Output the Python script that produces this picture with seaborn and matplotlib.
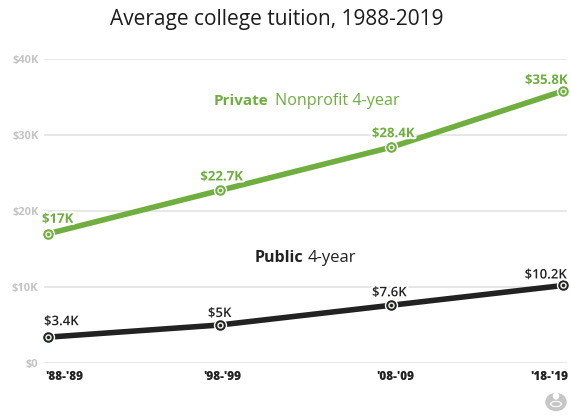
import matplotlib
matplotlib.use("Agg")
import matplotlib.pyplot as plt
from matplotlib.patches import Ellipse
from matplotlib.transforms import ScaledTranslation
import matplotlib.patheffects as pe
import pandas as pd
import seaborn as sns

periods = ["'88-'89", "'98-'99", "'08-'09", "'18-'19"]
private_values = [17, 22.7, 28.4, 35.8]
public_values = [3.4, 5, 7.6, 10.2]
private_labels = ["$17K", "$22.7K", "$28.4K", "$35.8K"]
public_labels = ["$3.4K", "$5K", "$7.6K", "$10.2K"]
y_ticks = [0, 10, 20, 30, 40]
y_tick_labels = ["$0", "$10K", "$20K", "$30K", "$40K"]

GREEN = "#6fae3f"
BLACK = "#222222"
W, H = 571, 417

sns.set_theme(style="white")
plt.rcParams["font.family"] = ["Open Sans", "DejaVu Sans"]

fig = plt.figure(figsize=(W / 100, H / 100), dpi=100, facecolor="white")
ax = fig.add_axes([44 / W, 1 - 363 / H, (567 - 44) / W, (363 - 59) / H])

frame = pd.DataFrame({
    "pos": list(range(4)) * 2,
    "value": private_values + public_values,
    "kind": ["private"] * 4 + ["public"] * 4,
})
palette = {"private": GREEN, "public": BLACK}
sns.lineplot(data=frame, x="pos", y="value", hue="kind", palette=palette,
             linewidth=4, legend=False, ax=ax, zorder=3, clip_on=False,
             solid_capstyle="butt")
# Ring markers: white gap around the ring, then pale centre with a dot
for name, values in (("private", private_values), ("public", public_values)):
    col = palette[name]
    ax.plot(range(4), values, ls="none", marker="o", ms=8.6, mfc=col, mec="white",
            mew=1.0, zorder=4, clip_on=False)
    ax.plot(range(4), values, ls="none", marker="o", ms=3.6, mfc=col, mec="#e6eee0",
            mew=1.1, zorder=5, clip_on=False)

# x range chosen so the four periods sit just inside the gridline ends
ax.set_xlim((44 - 48) / 171.7, (567 - 48) / 171.7)
ax.set_ylim(0, 40)
ax.set_yticks(y_ticks)
ax.set_yticklabels(y_tick_labels, fontsize=8, fontweight="bold", color="#c4c4c4")
ax.set_xticks(range(4))
ax.set_xticklabels(periods, fontsize=8.5, fontweight="heavy", color="#222222")
ax.set_xlabel("")
ax.set_ylabel("")
ax.tick_params(axis="both", length=0)
ax.tick_params(axis="y", pad=4)
ax.tick_params(axis="x", pad=6)
# The outer period labels are pulled in so they stay within the gridlines
for lab, ha, dx in zip(ax.get_xticklabels(), ["left", "center", "center", "right"], [-3, 3, 4, 5]):
    lab.set_ha(ha)
    lab.set_transform(lab.get_transform() + ScaledTranslation(dx / 100, 0, fig.dpi_scale_trans))
ax.grid(axis="y", color="#e3e3e3", lw=1.2)
ax.grid(axis="x", visible=False)
ax.set_axisbelow(True)
sns.despine(ax=ax, left=True, bottom=True, top=True, right=True)

halo = [pe.withStroke(linewidth=3, foreground="white")]
# (label, value, x pixel offset, y pixel offset, alignment) per point
private_place = [(-6, 8, "left"), (2, 7, "center"), (2, 7, "center"), (5, 4, "right")]
public_place = [(-4, 9, "left"), (0, 5, "center"), (-2, 6, "center"), (4, 4, "right")]
for values, labels, place, col, weight in (
    (private_values, private_labels, private_place, GREEN, "bold"),
    (public_values, public_labels, public_place, BLACK, "semibold"),
):
    for i, (v, s, (dx, dy, ha)) in enumerate(zip(values, labels, place)):
        ax.annotate(s, (i, v), xytext=(dx * 0.72, dy * 0.72), textcoords="offset points",
                    ha=ha, va="bottom", fontsize=9.5, fontweight=weight, color=col,
                    path_effects=halo, zorder=6, annotation_clip=False)

# Series names placed beside their lines
fig.text(214 / W, 1 - 101 / H, "Private", fontsize=11, fontweight="bold", color=GREEN, va="center")
fig.text(275 / W, 1 - 101 / H, "Nonprofit 4-year", fontsize=11.6, color=GREEN, va="center")
fig.text(255 / W, 1 - 258 / H, "Public", fontsize=11.5, fontweight="bold", color=BLACK, va="center")
fig.text(308 / W, 1 - 258 / H, "4-year", fontsize=12, color=BLACK, va="center")

fig.text(277 / W, 1 - 19 / H, "Average college tuition, 1988-2019", fontsize=15,
         color="#1c1c1c", ha="center", va="center")

# Small grey publisher mark in the bottom corner
mark = fig.add_axes([0, 0, 1, 1], facecolor="none")
mark.set_xlim(0, W)
mark.set_ylim(H, 0)
mark.axis("off")
mark.add_patch(Ellipse((556, 402), 20, 17, color="#c6c6c6"))
mark.add_patch(Ellipse((556, 396), 5, 6, color="white"))
mark.add_patch(Ellipse((556, 404), 11, 5, color="white"))
mark.add_patch(Ellipse((556, 404), 7, 3, color="#c6c6c6"))

fig.savefig("out.png", dpi=100, facecolor="white")
